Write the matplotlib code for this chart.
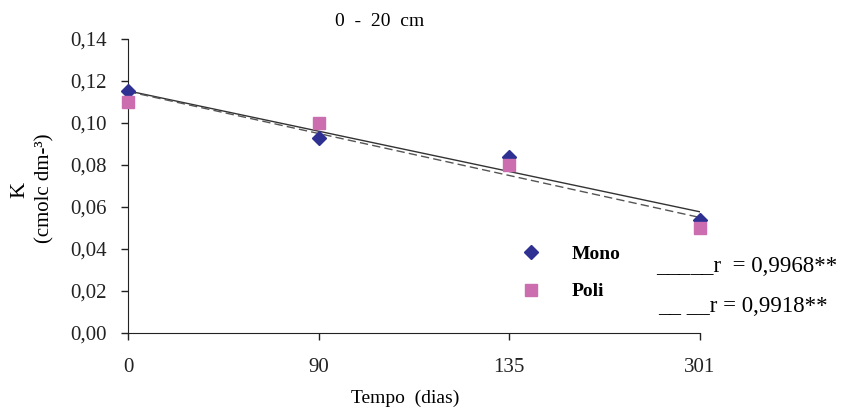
import numpy as np
import matplotlib
matplotlib.use("Agg")
import matplotlib.pyplot as plt
from matplotlib.lines import Line2D

# ---- data ----
tempo = ["0", "90", "135", "301"]
mono = [0.115, 0.093, 0.084, 0.054]
poli = [0.110, 0.100, 0.080, 0.050]
yticks = [0.00, 0.02, 0.04, 0.06, 0.08, 0.10, 0.12, 0.14]
r_mono = "0,9968**"
r_poli = "0,9918**"

plt.rcParams["font.family"] = ["Liberation Serif", "DejaVu Serif"]

fig = plt.figure(figsize=(8.48, 4.11), dpi=100)
ax = fig.add_axes([128 / 848, 1 - 333 / 411, (700 - 128) / 848, (333 - 39) / 411])

x = np.arange(len(tempo))

# regression lines over category positions
for vals, ls, col in [(mono, "-", "#333333"), (poli, (0, (6, 3)), "#555555")]:
    b, a = np.polyfit(x, vals, 1)
    ax.plot(x, a + b * x, linestyle=ls, color=col, linewidth=1.0, zorder=2)

ax.plot(x, mono, linestyle="none", marker="D", markersize=7,
        color="#2E3192", zorder=3, clip_on=False)
ax.plot(x, poli, linestyle="none", marker="s", markersize=9,
        color="#CC6DB0", zorder=3, clip_on=False)

ax.set_xlim(0, 3)
ax.set_ylim(0, 0.14)
ax.set_xticks(x)
ax.set_xticklabels(tempo, fontsize=15)
ax.set_yticks(yticks)
ax.set_yticklabels([f"{v:.2f}".replace(".", ",") for v in yticks], fontsize=15)
ax.tick_params(axis="both", direction="out", length=5, width=1, colors="#222222")
ax.tick_params(axis="x", pad=13)
ax.tick_params(axis="y", pad=10)
ax.spines["top"].set_visible(False)
ax.spines["right"].set_visible(False)
for s in ["left", "bottom"]:
    ax.spines[s].set_color("#222222")

fig.text(380 / 848, 1 - 22 / 411, "0  -  20  cm", ha="center", va="center", fontsize=14)
fig.text(405 / 848, 1 - 398 / 411, "Tempo  (dias)", ha="center", va="center", fontsize=14)
fig.text(20 / 848, 1 - 190 / 411, "K", rotation=90, ha="center", va="center", fontsize=16)
fig.text(45 / 848, 1 - 188 / 411, "(cmolc dm-³)", rotation=90, ha="center", va="center",
         fontsize=15)

handles = [
    Line2D([], [], linestyle="none", marker="D", markersize=7, color="#2E3192", label="Mono"),
    Line2D([], [], linestyle="none", marker="s", markersize=9, color="#CC6DB0", label="Poli"),
]
fig.legend(handles=handles, loc="center left", bbox_to_anchor=(494 / 848, 1 - 273 / 411),
           frameon=False, prop={"size": 14, "weight": "bold"}, labelspacing=1.0,
           handletextpad=1.1)

fig.text(656 / 848, 1 - 267 / 411, "_____r  = " + r_mono, ha="left", va="center", fontsize=16.5)
fig.text(658 / 848, 1 - 307 / 411, "__ __r = " + r_poli, ha="left", va="center", fontsize=16.5)

fig.savefig("out.png", dpi=100)
